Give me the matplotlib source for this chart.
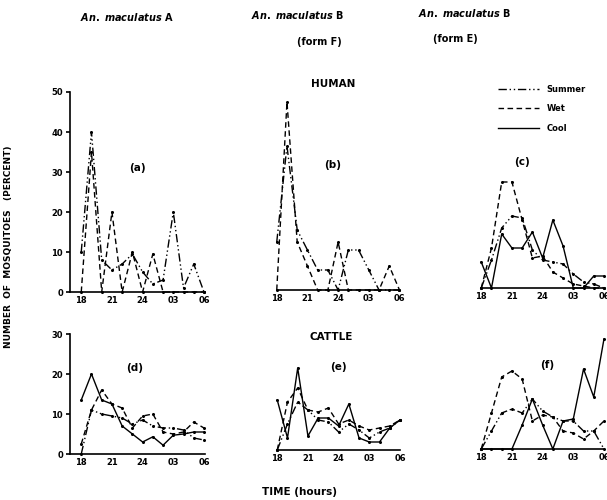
import matplotlib
matplotlib.use("Agg")
import matplotlib.pyplot as plt

hours = [18, 19, 20, 21, 22, 23, 24, 25, 26, 27, 28, 29, 30]
tick_pos = [18, 21, 24, 27, 30]
tick_labels = ['18', '21', '24', '03', '06']

# human bait
summer_a = [10, 40, 8, 5.5, 7, 9.5, 5, 2, 3, 20, 1, 7, 0]
wet_a = [0, 35, 0, 20, 0, 10, 0, 9.5, 0, 0, 0, 0, 0]

summer_b = [12, 36, 15, 10, 5, 5, 0, 10, 10, 5, 0, 0, 0]
wet_b = [0, 47, 12, 6, 0, 0, 12, 0, 0, 0, 0, 6, 0]

summer_c = [0, 7, 15, 18, 17.5, 9.5, 7, 6.5, 6, 3.5, 1.5, 1, 0]
wet_c = [0, 10, 26.5, 26.5, 17, 7.5, 8, 4, 2.5, 1, 0.5, 0, 0]
cool_c = [6.5, 0, 13.5, 10, 10, 14, 7.5, 17, 10.5, 0, 0, 3, 3]

# cattle bait
summer_d = [0, 11, 10, 9.5, 9, 7.5, 8.5, 7, 6.5, 6.5, 6, 4, 3.5]
wet_d = [2.5, 11, 16, 12.5, 11.5, 6.5, 9.5, 10, 5.5, 5, 5.5, 8, 6.5]
cool_d = [13.5, 20, 13.5, 12.5, 7, 5, 3, 4.3, 2.2, 4.7, 5, 5.5, 5.5]

summer_e = [0, 6.5, 12, 10, 7.5, 7, 4.5, 6.5, 5, 3, 4.5, 5.5, 7.5]
wet_e = [0, 12, 15.5, 10, 9.5, 10.5, 6.5, 7.5, 6, 5, 5.5, 6, 7.5]
cool_e = [12.5, 3, 20.5, 3.5, 8, 8, 6, 11.5, 3, 2, 2, 5.5, 7.5]

summer_f = [0, 4.5, 9, 10, 9, 12.5, 9.5, 8, 7, 7, 4.5, 4.5, 0]
wet_f = [0, 9, 18, 19.5, 17.5, 7, 8.5, 8, 4.5, 4, 2.5, 4.5, 7]
cool_f = [0, 0, 0, 0, 6, 12.5, 6, 0, 7, 7.5, 20, 13, 27.5]

plt.rcParams['font.family'] = 'DejaVu Sans'
plt.rcParams['font.weight'] = 'bold'
plt.rcParams['mathtext.fontset'] = 'custom'
plt.rcParams['mathtext.it'] = 'DejaVu Sans:italic:bold'
plt.rcParams['mathtext.rm'] = 'DejaVu Sans:bold'

styles = {'Summer': (0, (6, 2, 1, 2, 1, 2)), 'Wet': (0, (4, 2.5)), 'Cool': '-'}

W, H = 607.0, 500.0
fig = plt.figure(figsize=(6.07, 5.0), dpi=100)


def panel(left, base, ymax, yaxis, series, label, lab_xy):
    # 4 px per percent, 135 px from 16.9 h to 30.1 h
    ax = fig.add_axes([left / W, (H - base) / H, 135 / W, ymax * 4.0 / H])
    for name, vals in series:
        ax.plot(hours, vals, color='black', lw=1.0, ls=styles[name],
                marker='o', ms=1.2, clip_on=False)
    ax.set_xlim(16.9, 30.1)
    ax.set_ylim(0, ymax)
    ax.spines['top'].set_visible(False)
    ax.spines['right'].set_visible(False)
    ax.spines['bottom'].set_linewidth(1.2)
    ax.set_xticks(tick_pos)
    ax.set_xticklabels(tick_labels, fontsize=6, fontweight='bold')
    ax.tick_params(axis='x', length=0, pad=3)
    if yaxis:
        ax.spines['left'].set_linewidth(1.2)
        ax.set_yticks(range(0, ymax + 1, 10))
        ax.set_yticklabels([str(v) for v in range(0, ymax + 1, 10)],
                           fontsize=6, fontweight='bold')
        ax.tick_params(axis='y', length=3, width=1.2, pad=2)
    else:
        ax.spines['left'].set_visible(False)
        ax.spines['bottom'].set_bounds(18, 30)
        ax.set_yticks([])
    ax.patch.set_alpha(0)
    fig.text(lab_xy[0] / W, 1 - lab_xy[1] / H, label, fontsize=7.5,
             ha='center', va='center')
    return ax


panel(70, 292, 50, True, [('Summer', summer_a), ('Wet', wet_a)], '(a)', (137, 168))
panel(265.5, 290, 50, False, [('Summer', summer_b), ('Wet', wet_b)], '(b)', (333, 165))
panel(470, 288, 50, False, [('Summer', summer_c), ('Wet', wet_c), ('Cool', cool_c)],
      '(c)', (522, 162))
panel(70, 454, 30, True, [('Summer', summer_d), ('Wet', wet_d), ('Cool', cool_d)], '(d)', (135, 368))
panel(266, 450, 30, False, [('Summer', summer_e), ('Wet', wet_e), ('Cool', cool_e)], '(e)', (338, 367))
panel(470, 449, 30, False, [('Summer', summer_f), ('Wet', wet_f), ('Cool', cool_f)], '(f)', (547, 365))

# titles
fig.text(127 / W, 1 - 17 / H, r'$An.\ maculatus$ A', fontsize=7, ha='center', va='center')
fig.text(298 / W, 1 - 15 / H, r'$An.\ maculatus$ B', fontsize=7, ha='center', va='center')
fig.text(319 / W, 1 - 42 / H, '(form F)', fontsize=7, ha='center', va='center')
fig.text(465 / W, 1 - 13 / H, r'$An.\ maculatus$ B', fontsize=7, ha='center', va='center')
fig.text(455 / W, 1 - 39 / H, '(form E)', fontsize=7, ha='center', va='center')
fig.text(333 / W, 1 - 84 / H, 'HUMAN', fontsize=7.5, ha='center', va='center')
fig.text(331 / W, 1 - 337 / H, 'CATTLE', fontsize=7.5, ha='center', va='center')
fig.text(300 / W, 1 - 492 / H, 'TIME (hours)', fontsize=7.5, ha='center', va='center')
fig.text(9 / W, 1 - 247 / H, 'NUMBER  OF  MOSQUITOES   (PERCENT)', fontsize=6.5,
         rotation=90, ha='center', va='center')

# legend
handles = [plt.Line2D([], [], color='black', lw=1.0, ls=styles[n]) for n in ['Summer', 'Wet', 'Cool']]
fig.legend(handles, ['Summer', 'Wet', 'Cool'], loc='upper left',
           bbox_to_anchor=(490 / W, 1 - 77 / H), frameon=False, fontsize=6,
           handlelength=5.0, handletextpad=0.9, labelspacing=1.3)

fig.savefig('out.png', dpi=100)
